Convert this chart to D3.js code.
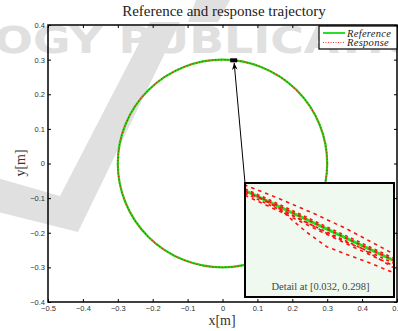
<!DOCTYPE html>
<html>
<head>
<meta charset="utf-8">
<script src="https://cdn.jsdelivr.net/npm/d3@7"></script>
<style>
  body { margin: 0; background: #fff; }
  svg { display: block; }
</style>
</head>
<body>
<script>
// tick values for the main axes
var xTicks = [-0.5, -0.4, -0.3, -0.2, -0.1, 0, 0.1, 0.2, 0.3, 0.4, 0.5];
var yTicks = [-0.4, -0.3, -0.2, -0.1, 0, 0.1, 0.2, 0.3, 0.4];

// reference circle and response (same circle at this scale)
var refCenter = [0, 0];
var refRadius = 0.3;
var respRadius = 0.3;
var detailPoint = [0.032, 0.298];

// detail window: offsets from detailPoint in mm
var insetXDomain = [-1, 1];
var insetYDomain = [-0.218, 0.1305];
var insetRef = [[-1, 0.107], [1.02, -0.109]];
var insetResp = [
  [[-1, 0.128], [-0.987, 0.1229], [-0.53, 0.0816], [-0.06, 0.0357], [0.369, -0.0102], [0.973, -0.0835], [1, -0.086]],
  [[-1, 0.113], [-0.5, 0.061], [0, 0.007], [0.5, -0.046], [1, -0.100]],
  [[-1, 0.108], [-0.5, 0.055], [0, 0.001], [0.5, -0.053], [1, -0.106]],
  [[-1, 0.099], [-0.5, 0.045], [0, -0.009], [0.5, -0.062], [1, -0.115]],
  [[-1, 0.093], [-0.5, 0.040], [0, -0.016], [0.5, -0.070], [1, -0.123]],
  [[-1, 0.104], [-0.772, 0.0816], [-0.396, 0.0357], [-0.105, 0.002], [0.097, -0.0233], [0.342, -0.049], [0.566, -0.0692], [0.973, -0.1255], [1, -0.128]],
  [[-1, 0.104], [-0.772, 0.0816], [-0.53, 0.051], [-0.356, 0.0152], [-0.181, -0.0184], [0.097, -0.0643], [0.409, -0.0918], [0.633, -0.1102], [0.973, -0.1417], [1, -0.144]]
];

var width = 398, height = 331;
var svg = d3.select("body").append("svg")
    .attr("width", width)
    .attr("height", height);

// faint watermark behind everything
var wm = svg.append("g").attr("fill", "#e0e0e0");
wm.append("path")
    .attr("d", "M-10,176 L60,196 L150,22 L180,22 L78,232 L-10,210 Z");
wm.append("path")
    .attr("d", "M196,0 L230,0 L218,22 L188,22 Z");
wm.append("text")
    .attr("x", -6).attr("y", 53)
    .attr("font-family", "DejaVu Sans")
    .attr("font-weight", "bold")
    .attr("font-size", 37)
    .attr("textLength", 500)
    .attr("lengthAdjust", "spacingAndGlyphs")
    .text("OGY PUBLICATIONS");

var x = d3.scaleLinear().domain([-0.5, 0.5]).range([48, 397]);
var y = d3.scaleLinear().domain([-0.4, 0.4]).range([302, 25]);

var fmt = function(d) { return d === 0 ? "0" : d3.format(".1f")(d); };

var gx = svg.append("g")
    .attr("transform", "translate(0," + y(-0.4) + ")")
    .call(d3.axisBottom(x).tickValues(xTicks).tickSize(-3).tickPadding(4).tickFormat(fmt));
var gxt = svg.append("g")
    .attr("transform", "translate(0," + y(0.4) + ")")
    .call(d3.axisTop(x).tickValues(xTicks).tickSize(-3).tickFormat(""));
var gy = svg.append("g")
    .attr("transform", "translate(" + x(-0.5) + ",0)")
    .call(d3.axisLeft(y).tickValues(yTicks).tickSize(-3).tickPadding(3).tickFormat(fmt));
var gyr = svg.append("g")
    .attr("transform", "translate(" + x(0.5) + ",0)")
    .call(d3.axisRight(y).tickValues(yTicks).tickSize(-3).tickFormat(""));

[gx, gxt, gy, gyr].forEach(function(g) {
  g.select(".domain").remove();
  g.selectAll(".tick line").attr("stroke", "#000").attr("stroke-width", 1);
  g.selectAll("text")
    .attr("font-family", "Liberation Sans, Arial, sans-serif")
    .attr("font-size", 7.5)
    .attr("fill", "#333");
});

svg.append("rect")
    .attr("x", x(-0.5)).attr("y", y(0.4))
    .attr("width", x(0.5) - x(-0.5))
    .attr("height", y(-0.4) - y(0.4))
    .attr("fill", "none")
    .attr("stroke", "#000")
    .attr("stroke-width", 1.5);

// reference circle (green) and response (red dotted)
svg.append("ellipse")
    .attr("cx", x(refCenter[0])).attr("cy", y(refCenter[1]))
    .attr("rx", x(refRadius) - x(0)).attr("ry", y(0) - y(refRadius))
    .attr("fill", "none")
    .attr("stroke", "#28d010")
    .attr("stroke-width", 2.2);
svg.append("ellipse")
    .attr("cx", x(refCenter[0])).attr("cy", y(refCenter[1]))
    .attr("rx", x(respRadius) - x(0)).attr("ry", y(0) - y(respRadius))
    .attr("fill", "none")
    .attr("stroke", "#e02010")
    .attr("stroke-width", 1.1)
    .attr("stroke-dasharray", "1.2,2");

// marker at detail point
svg.append("rect")
    .attr("x", x(detailPoint[0]) - 3.5).attr("y", y(detailPoint[1]) - 2)
    .attr("width", 7).attr("height", 4)
    .attr("fill", "#000");

// inset
var ix0 = 245, ix1 = 394, iy0 = 183, iy1 = 297;

svg.append("defs").append("marker")
    .attr("id", "arr")
    .attr("viewBox", "0 0 10 10")
    .attr("refX", 10).attr("refY", 5)
    .attr("markerWidth", 7).attr("markerHeight", 7)
    .attr("orient", "auto")
  .append("path")
    .attr("d", "M0,1 L10,5 L0,9 L3,5 Z")
    .attr("fill", "#000");

svg.append("line")
    .attr("x1", ix0).attr("y1", iy0)
    .attr("x2", x(detailPoint[0]) + 0.5).attr("y2", y(detailPoint[1]) + 2.5)
    .attr("stroke", "#000")
    .attr("stroke-width", 1)
    .attr("marker-end", "url(#arr)");

var ix = d3.scaleLinear().domain(insetXDomain).range([ix0, ix1]);
var iy = d3.scaleLinear().domain(insetYDomain).range([iy1, iy0]);

svg.select("defs").append("clipPath").attr("id", "iclip")
  .append("rect")
    .attr("x", ix0).attr("y", iy0)
    .attr("width", ix1 - ix0).attr("height", iy1 - iy0);

svg.append("rect")
    .attr("x", ix0).attr("y", iy0)
    .attr("width", ix1 - ix0).attr("height", iy1 - iy0)
    .attr("fill", "#f0f9ef");

var ig = svg.append("g").attr("clip-path", "url(#iclip)");
var iline = d3.line().x(function(d) { return ix(d[0]); }).y(function(d) { return iy(d[1]); });

ig.append("path")
    .attr("d", iline(insetRef))
    .attr("fill", "none")
    .attr("stroke", "#1de21d")
    .attr("stroke-width", 3);

ig.selectAll(".resp")
    .data(insetResp)
  .enter().append("path")
    .attr("class", "resp")
    .attr("d", iline)
    .attr("fill", "none")
    .attr("stroke", "#ff1010")
    .attr("stroke-width", 1.6)
    .attr("stroke-dasharray", function(d, i) { return i >= 1 && i <= 3 ? "3,3.5" : "3.5,4"; });

svg.append("text")
    .attr("x", (ix0 + ix1) / 2 + 1).attr("y", iy1 - 7)
    .attr("text-anchor", "middle")
    .attr("font-family", "Liberation Serif, serif")
    .attr("font-size", 10.5)
    .attr("fill", "#444")
    .text("Detail at [0.032, 0.298]");

svg.append("rect")
    .attr("x", ix0).attr("y", iy0)
    .attr("width", ix1 - ix0).attr("height", iy1 - iy0)
    .attr("fill", "none")
    .attr("stroke", "#000")
    .attr("stroke-width", 2);

// legend
var lg = svg.append("g").attr("transform", "translate(319,26)");
lg.append("rect")
    .attr("width", 78).attr("height", 23)
    .attr("fill", "#fff")
    .attr("stroke", "#000")
    .attr("stroke-width", 1.2);
lg.append("line")
    .attr("x1", 4).attr("x2", 26).attr("y1", 7).attr("y2", 7)
    .attr("stroke", "#14d814").attr("stroke-width", 1.8);
lg.append("line")
    .attr("x1", 4).attr("x2", 26).attr("y1", 16.5).attr("y2", 16.5)
    .attr("stroke", "#ff3030").attr("stroke-width", 1)
    .attr("stroke-dasharray", "1,1.5");
lg.selectAll(".lt")
    .data(["Reference", "Response"])
  .enter().append("text")
    .attr("x", 28)
    .attr("y", function(d, i) { return 10.5 + i * 9.5; })
    .attr("font-family", "Liberation Serif, serif")
    .attr("font-style", "italic")
    .attr("font-size", 10.5)
    .attr("letter-spacing", 0.3)
    .attr("fill", "#222")
    .text(function(d) { return d; });

// title and axis labels
svg.append("text")
    .attr("x", 224).attr("y", 16)
    .attr("text-anchor", "middle")
    .attr("font-family", "Liberation Serif, serif")
    .attr("font-size", 15)
    .attr("fill", "#222")
    .text("Reference and response trajectory");

svg.append("text")
    .attr("x", 222).attr("y", 325)
    .attr("text-anchor", "middle")
    .attr("font-family", "Liberation Serif, serif")
    .attr("font-size", 14)
    .attr("fill", "#333")
    .text("x[m]");

svg.append("text")
    .attr("transform", "translate(25,163) rotate(-90)")
    .attr("text-anchor", "middle")
    .attr("font-family", "Liberation Serif, serif")
    .attr("font-size", 14)
    .attr("fill", "#333")
    .text("y[m]");
</script>
</body>
</html>
